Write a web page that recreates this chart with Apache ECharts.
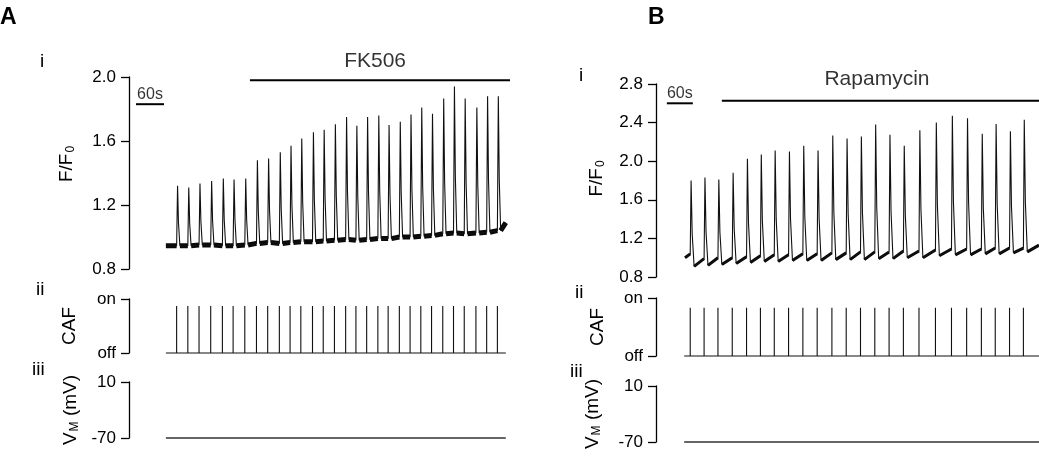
<!DOCTYPE html>
<html><head><meta charset="utf-8">
<script src="https://cdn.jsdelivr.net/npm/echarts@6/dist/echarts.min.js"></script>
<style>html,body{margin:0;padding:0;background:#fff}#c{width:1039px;height:464px}</style>
</head><body><div id="c"></div>
<script>
// ---------- Panel A (FK506) : times in s from trace start ----------
const cafA  = [23,47,71,96,121,144,169,194,218,243,266,289,314,337,361,385,407,430,454,476,500,523,546,569,593,616,639,664,687,710];
const peakA = [1.32,1.31,1.335,1.35,1.365,1.36,1.365,1.48,1.49,1.53,1.57,1.615,1.655,1.67,1.705,1.75,1.695,1.75,1.76,1.70,1.72,1.765,1.81,1.77,1.865,1.94,1.865,1.81,1.88,1.88];
const baseA = [0.945,0.945,0.95,0.95,0.945,0.945,0.95,0.96,0.965,0.96,0.965,0.97,0.97,0.975,0.98,0.985,0.98,0.985,0.99,0.99,1.0,1.0,1.005,1.01,1.02,1.025,1.02,1.025,1.03,1.04];
const startA = [0, 0.945];
const endA   = [728, 1.09];
const cafLevelA = 0.87;
const ticksA = [0.8, 1.2, 1.6, 2.0];

// ---------- Panel B (Rapamycin) ----------
const cafB    = [12,44,76,109,142,174,206,239,272,305,339,372,405,438,471,504,540,578,615,650,684,716,749,781];
const peakB   = [1.80,1.83,1.81,1.88,2.025,2.07,2.11,2.10,2.16,2.11,2.265,2.235,2.255,2.38,2.275,2.16,2.32,2.40,2.47,2.445,2.285,2.385,2.31,2.43];
const baseB   = [1.04,0.99,1.0,1.0,1.01,1.02,1.03,1.03,1.04,1.04,1.05,1.05,1.06,1.06,1.06,1.07,1.07,1.08,1.09,1.09,1.09,1.10,1.10,1.10];
const troughB = [0.91,0.92,0.93,0.94,0.95,0.96,0.96,0.97,0.97,0.97,0.98,0.98,0.98,0.99,0.99,1.0,1.0,1.02,1.03,1.03,1.04,1.04,1.05,1.06];
const startB = [0, 1.0];
const endB   = [817, 1.13];
const cafLevelB = 0.83;
const ticksB = [0.8, 1.2, 1.6, 2.0, 2.4, 2.8];

const vmRest = -70;
const vmTicks = [-70, 10];
const cafTicks = ['off', 'on'];

const FONT = 'Liberation Sans';

function buildTrace(caf, peak, base, trough, start, end, fall, mid) {
  const thin = [start.slice()];
  const band = [start.slice()];
  for (let i = 0; i < caf.length; i++) {
    const t = caf[i], b = base[i], p = peak[i];
    const tr = trough ? trough[i] : b;
    thin.push([t, b], [t + 2, p], [t + mid, tr + 0.38 * (p - tr)], [t + fall, tr]);
    band.push([t, b], [t + 1, null], [t + fall, tr]);
  }
  thin.push(end.slice());
  band.push(end.slice());
  return { thin, band };
}
function buildCaf(caf, level, t0, t1) {
  const d = [[t0, 0]];
  caf.forEach(t => d.push([t, 0], [t, level], [t, 0]));
  d.push([t1, 0]);
  return d;
}

const trA = buildTrace(cafA, peakA, baseA, null, startA, endA, 7, 4);
const trB = buildTrace(cafB, peakB, baseB, troughB, startB, endB, 9, 4.5);

// layout (pixels)
const L = {
  A: { left: 129, width: 381, xmin: -79, xmax: 737, f: [77, 192], c: [299, 54], v: [382, 56] },
  B: { left: 656, width: 383, xmin: -67, xmax: 817, f: [84, 193], c: [298, 58], v: [386, 56] }
};

const grids = [], xAxes = [], yAxes = [], series = [];
function addGrid(P, box) {
  grids.push({ left: P.left, width: P.width, top: box[0], height: box[1] });
  const gi = grids.length - 1;
  xAxes.push({ type: 'value', gridIndex: gi, min: P.xmin, max: P.xmax, show: false });
  return gi;
}
function yAx(gi, min, max, interval, fmt, name, nameGap, namePad) {
  return {
    type: 'value', gridIndex: gi, min, max, interval, position: 'left',
    axisLine: { show: true, onZero: false, lineStyle: { color: '#000', width: 1.3 } },
    axisTick: { show: true, length: 8, lineStyle: { color: '#000', width: 1.3 } },
    axisLabel: { color: '#000', fontSize: 17, fontFamily: FONT, margin: 13, formatter: fmt },
    splitLine: { show: false },
    name, nameLocation: 'middle', nameGap, nameRotate: 90,
    nameTextStyle: {
      color: '#000', fontSize: 19, fontFamily: FONT, padding: namePad || 0,
      rich: { s: { fontSize: 12, fontFamily: FONT, color: '#000', padding: [9, 0, 0, 1] } }
    }
  };
}
function lineS(gi, data, width, color) {
  return { type: 'line', xAxisIndex: gi, yAxisIndex: gi, data, showSymbol: false, symbol: 'none',
    lineStyle: { color: color || '#000', width }, clip: false, silent: true, animation: false, connectNulls: false };
}
function textS(gi, pos, txt, size) {
  return { type: 'scatter', xAxisIndex: gi, yAxisIndex: gi, data: [pos], symbolSize: 1,
    itemStyle: { color: 'rgba(0,0,0,0)' }, clip: false, silent: true, animation: false,
    label: { show: true, position: 'inside', formatter: txt, color: '#000', fontSize: size, fontFamily: FONT } };
}

function panel(P, tr, caf, level, ticks, fmax, tEnd, tStart, ann) {
  const gF = addGrid(P, P.f);
  yAxes.push(yAx(gF, 0.8, fmax, 0.4, v => v.toFixed(1), 'F/F{s|0}', ann.gapF, ann.padF));
  series.push(lineS(gF, tr.band, ann.band, '#0a0a0a'));
  series.push(lineS(gF, tr.thin, 1.1, '#111'));
  series.push(lineS(gF, ann.scale, 2));
  series.push(textS(gF, ann.scaleText, '60s', 16));
  series.push(lineS(gF, ann.drug, 2));
  series.push(textS(gF, ann.drugText, ann.drugName, 21));

  const gC = addGrid(P, P.c);
  yAxes.push(yAx(gC, 0, 1, 1, v => cafTicks[Math.round(v)], 'CAF', ann.gapC));
  series.push(lineS(gC, buildCaf(caf, level, tStart, tEnd), 1.1, '#111'));

  const gV = addGrid(P, P.v);
  yAxes.push(yAx(gV, vmTicks[0], vmTicks[1], vmTicks[1] - vmTicks[0], v => String(Math.round(v)), 'V{s|M} (mV)', ann.gapV));
  series.push(lineS(gV, [[tStart, vmRest], [tEnd, vmRest]], 1.5, '#333'));
}

panel(L.A, trA, cafA, cafLevelA, ticksA, 2.0, endA[0], 0, {
  gapF: 52, gapC: 50, gapV: 48, band: 5, padF: [0, 0, 0, 18],
  scale: [[-64, 1.83], [-4, 1.83]], scaleText: [-34, 1.89],
  drug: [[180, 1.98], [737, 1.98]], drugText: [448, 2.10], drugName: 'FK506'
});
panel(L.B, trB, cafB, cafLevelB, ticksB, 2.8, endB[0], -2, {
  gapF: 49, gapC: 49, gapV: 53, band: 3, padF: [0, 0, 0, 4],
  scale: [[-42, 2.6], [18, 2.6]], scaleText: [-12, 2.70],
  drug: [[85, 2.627], [817, 2.627]], drugText: [443, 2.845], drugName: 'Rapamycin'
});

const tx = (text, left, top, size, bold) => ({ text, left, top, padding: 0,
  textStyle: { fontSize: size, fontWeight: bold ? 'bold' : 'normal', fontFamily: FONT, color: '#000' } });

const chart = echarts.init(document.getElementById('c'), null, { renderer: 'canvas' });
chart.setOption({
  animation: false,
  backgroundColor: '#fff',
  title: [
    tx('A', 0, 6, 23, true), tx('B', 648, 6, 23, true),
    tx('i', 40, 52, 19), tx('ii', 36, 280, 19), tx('iii', 32, 360, 19),
    tx('i', 579, 66, 19), tx('ii', 575, 283, 19), tx('iii', 570, 362, 19)
  ],
  grid: grids, xAxis: xAxes, yAxis: yAxes, series
});
</script></body></html>
